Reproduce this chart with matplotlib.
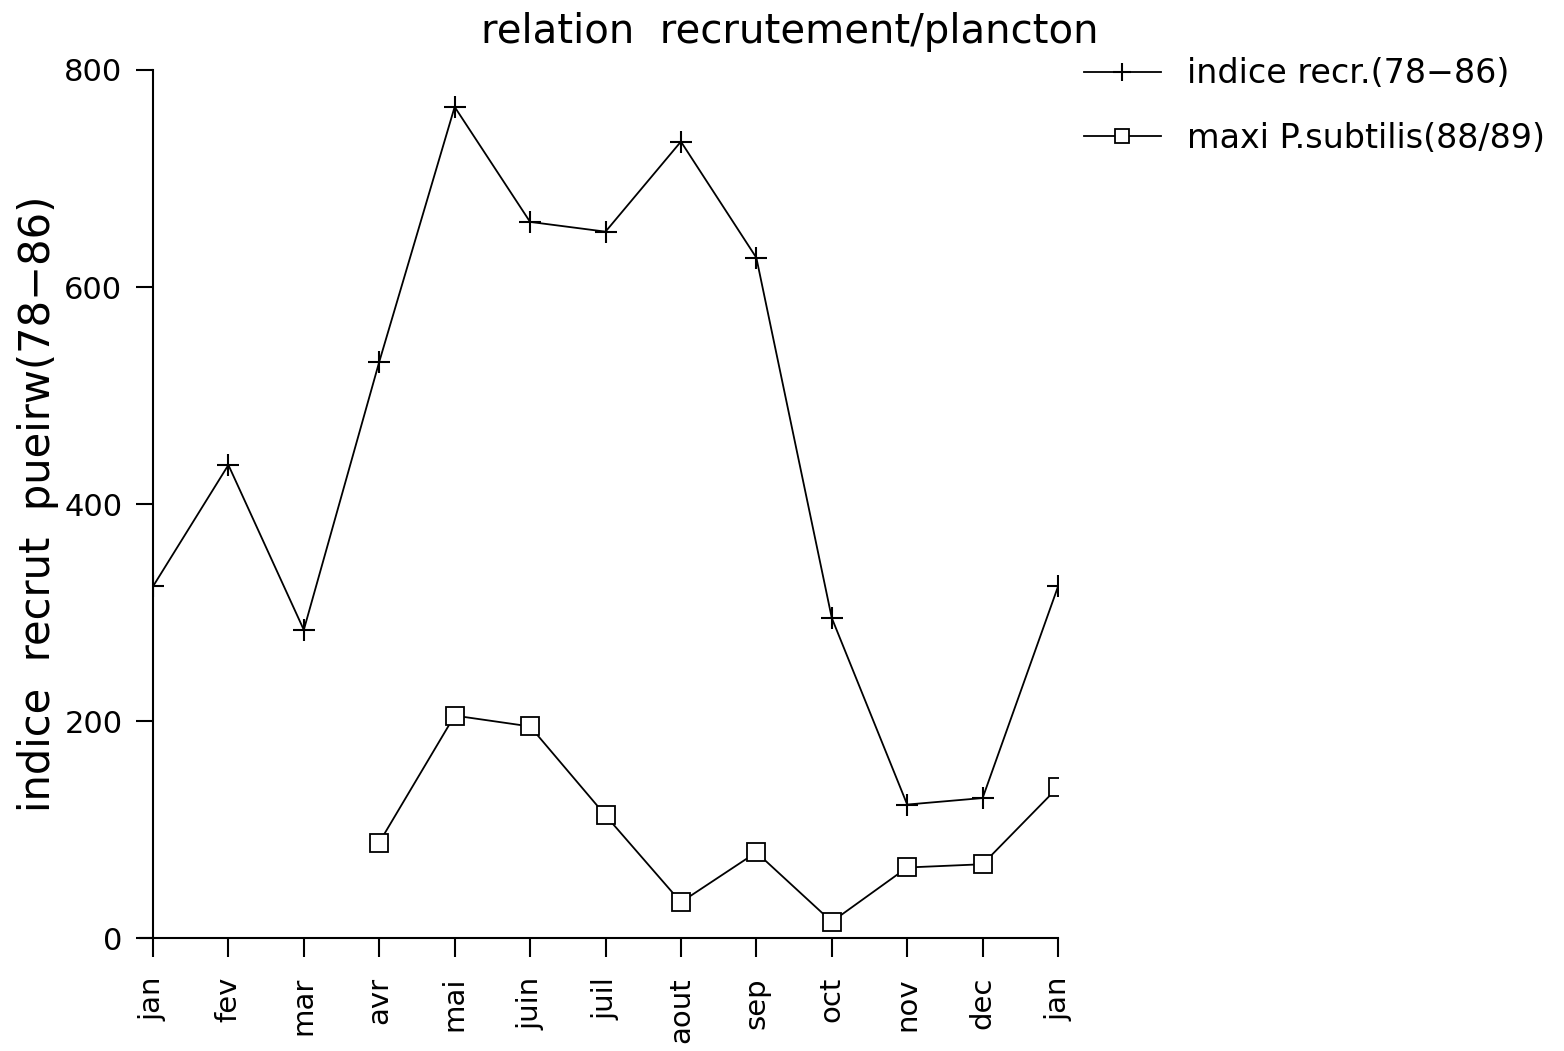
import numpy as np
import matplotlib.pyplot as plt

# Data
mois = ["jan", "fev", "mar", "avr", "mai", "juin", "juil", "aout", "sep",
        "oct", "nov", "dec", "jan"]
indice_recr = [324, 436, 284, 531, 766, 660, 651, 734, 627, 295, 123, 129, 324]
mois_plancton = [3, 4, 5, 6, 7, 8, 9, 10, 11, 12]
maxi_subtilis = [88, 205, 195, 113, 33, 79, 15, 65, 68, 139]

plt.rcParams['font.family'] = ['DejaVu Sans']
plt.rcParams['text.color'] = 'black'

fig = plt.figure(figsize=(15.64, 10.51), dpi=100)
ax = fig.add_axes([0.0978, 0.1075, 0.5787, 0.8259])

x = np.arange(len(mois))
ax.plot(x, indice_recr, color='black', lw=1.3, marker='+', markersize=16,
        mew=1.5, label='indice recr.(78\u221286)')
ax.plot(mois_plancton, maxi_subtilis, color='black', lw=1.3, marker='s',
        markersize=13, mfc='white', mew=1.3, label='maxi P.subtilis(88/89)')

ax.set_xlim(0, 12)
ax.set_ylim(0, 800)
ax.set_xticks(x)
ax.set_xticklabels(mois, rotation=90, fontsize=21)
ax.set_yticks([0, 200, 400, 600, 800])
ax.tick_params(axis='y', labelsize=22, length=12, width=1.5, pad=10)
ax.tick_params(axis='x', length=14, width=1.5, pad=14)
for side in ['top', 'right']:
    ax.spines[side].set_visible(False)
for side in ['left', 'bottom']:
    ax.spines[side].set_linewidth(1.5)
ax.spines['bottom'].set_bounds(-0.17, 12)

ax.set_ylabel('indice  recrut  pueirw(78\u221286)', fontsize=30, labelpad=4)
fig.text(0.505, 0.97, 'relation  recrutement/plancton', fontsize=29,
         ha='center', va='center')

fig.legend(loc='upper left', bbox_to_anchor=(0.674, 0.974), frameon=False,
           fontsize=24, handlelength=2.3, labelspacing=0.95, handletextpad=0.8,
           markerscale=0.8)

fig.savefig('out.png', dpi=100)
